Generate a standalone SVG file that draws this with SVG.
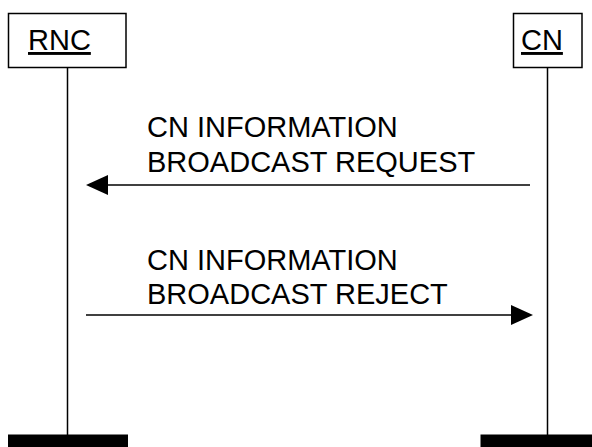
<svg xmlns="http://www.w3.org/2000/svg" width="592" height="447" viewBox="0 0 592 447">
<style>
.box{fill:#fff;stroke:#000;stroke-width:1.5}
.life{stroke:#000;stroke-width:1.5;fill:none}
.bar{fill:#000}
.lbl{font-family:"Liberation Sans",Arial,sans-serif;font-size:29px;fill:#000}
.ul{text-decoration:underline}
.msg{stroke:#000;stroke-width:1.5;fill:none}
.head{fill:#000}
</style>
<rect width="592" height="447" fill="#fff"/>
<g id="RNC">
<line class="life" x1="67.5" y1="68" x2="67.5" y2="435"/>
<rect class="box" x="8.5" y="13.5" width="117.5" height="54"/>
<text class="lbl ul" x="28" y="50">RNC</text>
<rect class="bar" x="8" y="434.5" width="120" height="12.5"/>
</g>
<g id="CN">
<line class="life" x1="547.5" y1="68" x2="547.5" y2="435"/>
<rect class="box" x="513.5" y="13.5" width="68.5" height="54"/>
<text class="lbl ul" x="521" y="50">CN</text>
<rect class="bar" x="480.5" y="434.5" width="111.5" height="12.5"/>
</g>
<g id="connectors">
<g id="msg1">
<line class="msg" x1="530" y1="185" x2="104" y2="185"/>
<polygon class="head" points="86,185 108,175 108,195"/>
<text class="lbl" x="147" y="137">CN INFORMATION</text>
<text class="lbl" x="147" y="172">BROADCAST REQUEST</text>
</g>
<g id="msg2">
<line class="msg" x1="86" y1="315" x2="515" y2="315"/>
<polygon class="head" points="533,315 511,305 511,325"/>
<text class="lbl" x="147" y="269.5">CN INFORMATION</text>
<text class="lbl" x="147" y="304">BROADCAST REJECT</text>
</g>
</g>
</svg>
